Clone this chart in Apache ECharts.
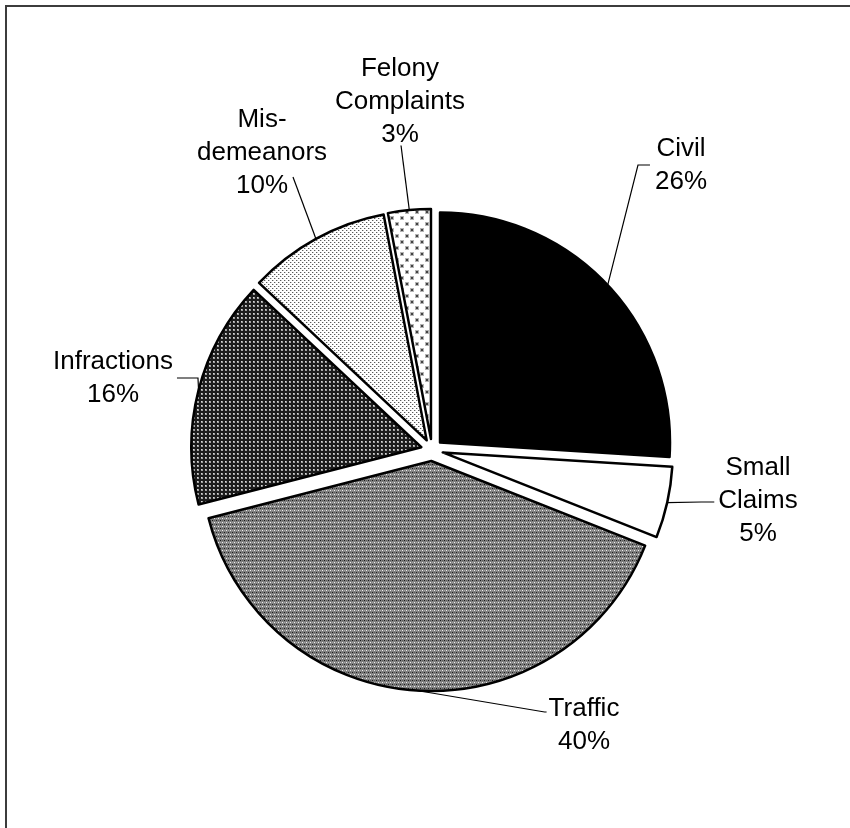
<!DOCTYPE html>
<html><head><meta charset="utf-8">
<script src="https://cdn.jsdelivr.net/npm/echarts@6/dist/echarts.min.js"></script>
<style>html,body{margin:0;padding:0;background:#fff}#c{width:850px;height:828px}</style>
</head><body><div id="c"></div>
<script>
// ---- data ----
const categories = ['Civil', 'Small\nClaims', 'Traffic', 'Infractions', 'Mis-\ndemeanors', 'Felony\nComplaints'];
const values = [26, 5, 40, 16, 10, 3];

// ---- styles / layout ----
function pat(w, h, draw) {
  const c = document.createElement('canvas'); c.width = w; c.height = h;
  const g = c.getContext('2d'); draw(g); return { image: c, repeat: 'repeat' };
}
const fills = [
  '#000000',
  '#ffffff',
  pat(4, 4, g => { g.fillStyle = '#808080'; g.fillRect(0, 0, 4, 4); g.fillStyle = '#1a1a1a'; g.fillRect(0, 0, 1, 1); g.fillStyle = '#f0f0f0'; g.fillRect(2, 2, 1, 1); g.fillStyle = '#5a5a5a'; g.fillRect(2, 0, 1, 1); g.fillStyle = '#a8a8a8'; g.fillRect(0, 2, 1, 1); }),
  pat(4, 4, g => { g.fillStyle = '#1c1c1c'; g.fillRect(0, 0, 4, 4); g.fillStyle = '#a0a0a0'; g.fillRect(1, 1, 2, 2); g.fillStyle = '#d8d8d8'; g.fillRect(1, 1, 1, 1); }),
  pat(4, 4, g => { g.fillStyle = '#ffffff'; g.fillRect(0, 0, 4, 4); g.fillStyle = '#5a5a5a'; g.fillRect(0, 0, 1, 1); g.fillRect(2, 2, 1, 1); g.fillStyle = '#c8c8c8'; g.fillRect(1, 0, 1, 1); g.fillRect(3, 2, 1, 1); }),
  pat(10, 12, g => { g.fillStyle = '#ffffff'; g.fillRect(0, 0, 10, 12); g.fillStyle = '#b4b4b4'; g.fillRect(0, 0, 4, 4); g.fillRect(5, 6, 4, 4); g.fillStyle = '#444444'; g.fillRect(1, 1, 2, 2); g.fillRect(6, 7, 2, 2); })
];
const base = [432, 450], R = 230, OFF = 11;
// label placement: center x/y, side the leader attaches to, offset along side, gap, stub length
const labelSpots = [
  { x: 681, y: 165, side: 'left', d: 0, gap: 5, stub: 12 },
  { x: 758, y: 501, side: 'left', d: 1, gap: 4, stub: 13 },
  { x: 584, y: 725, side: 'left', d: -13, gap: 2, stub: 2 },
  { x: 113, y: 378, side: 'right', d: 0, gap: 4, stub: 21 },
  { x: 262, y: 153, side: 'free', ex: 31, ey: 24 },
  { x: 400, y: 102, side: 'bottom', d: 1, gap: -6, stub: 0 }
];

function layoutLabel(p) {
  const s = labelSpots[p.dataIndex];
  const w = p.labelRect.width, h = p.labelRect.height;
  let end, elbow;
  if (s.side === 'left') { end = [s.x - w / 2 - s.gap, s.y + s.d]; elbow = [end[0] - s.stub, end[1]]; }
  else if (s.side === 'right') { end = [s.x + w / 2 + s.gap, s.y + s.d]; elbow = [end[0] + s.stub, end[1]]; }
  else if (s.side === 'bottom') { end = [s.x + s.d, s.y + h / 2 + s.gap]; elbow = [end[0], end[1] + s.stub]; }
  else { end = [s.x + s.ex, s.y + s.ey]; elbow = end.slice(); }
  const pts = p.labelLinePoints;
  const anchor = pts ? pts[0] : elbow;
  return {
    x: s.x, y: s.y, align: 'center', verticalAlign: 'middle',
    labelLinePoints: [anchor, elbow, end]
  };
}

const total = values.reduce((a, b) => a + b, 0);
let cum = 0;
const series = values.map((v, i) => {
  const mid = (90 - 360 * (cum + v / 2) / total) * Math.PI / 180;
  cum += v;
  const center = [base[0] + OFF * Math.cos(mid), base[1] - OFF * Math.sin(mid)];
  return {
    type: 'pie', center: center, radius: [0, R], startAngle: 90, clockwise: true,
    silent: true, animation: false, avoidLabelOverlap: false, minAngle: 0,
    emphasis: { disabled: true },
    data: values.map((vv, j) => ({
      name: categories[j], value: vv,
      itemStyle: j === i ? { color: fills[j], borderColor: '#000', borderWidth: 2.5 } : { color: 'rgba(0,0,0,0)', borderWidth: 0 },
      label: { show: j === i },
      labelLine: { show: j === i }
    })),
    label: {
      position: 'outside',
      formatter: p => categories[p.dataIndex] + '\n' + values[p.dataIndex] + '%',
      fontFamily: 'Liberation Sans', fontSize: 26, lineHeight: 33, color: '#000', align: 'center'
    },
    labelLine: { lineStyle: { color: '#000', width: 1.2 }, length: 10, length2: 10, smooth: false },
    labelLayout: layoutLabel
  };
});

const chart = echarts.init(document.getElementById('c'), null, { renderer: 'canvas' });
chart.setOption({
  backgroundColor: '#ffffff',
  animation: false,
  graphic: [{ type: 'rect', shape: { x: 6, y: 6, width: 900, height: 900 }, style: { fill: 'none', stroke: '#3c3c3c', lineWidth: 2 }, silent: true }],
  series: series
});
</script></body></html>
